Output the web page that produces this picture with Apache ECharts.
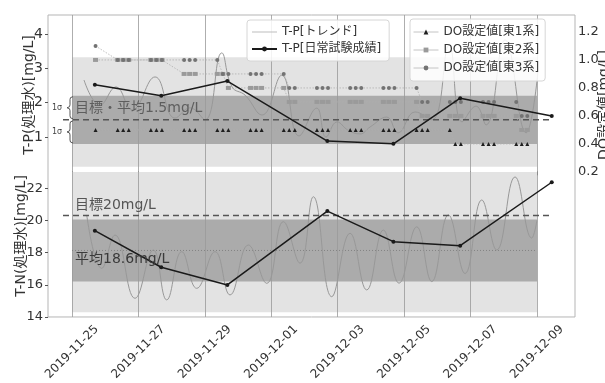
<!DOCTYPE html>
<html><head><meta charset="utf-8">
<script src="https://cdn.jsdelivr.net/npm/echarts@6/dist/echarts.min.js"></script>
<style>html,body{margin:0;padding:0;background:#fff}#c{width:605px;height:383px}</style>
</head><body><div id="c"></div>
<script>
const FONT = '"DejaVu Sans","Noto Sans CJK JP",sans-serif';

// ---- axis / ticks ----
const xTicks = ['2019-11-25','2019-11-27','2019-11-29','2019-12-01','2019-12-03','2019-12-05','2019-12-07','2019-12-09'];
const xRange = ['2019-11-24 06:39','2019-12-10 03:28'];
const tpRange = [-4.243, 4.554];
const tnRange = [14, 32.76];
const doRange = [-0.836, 1.321];
const tpTicks = [1,2,3,4];
const tnTicks = [14,16,18,20,22];
const doTicks = [0.2,0.4,0.6,0.8,1.0,1.2];

// ---- daily test results ----
const dailyTimes = ['2019-11-25 16:30','2019-11-27 16:30','2019-11-29 16:15','2019-12-02 16:30','2019-12-04 16:15','2019-12-06 16:30','2019-12-09 10:40'];
const tpDaily = [2.52, 2.20, 2.63, 0.88, 0.80, 2.13, 1.61];
const tnDaily = [19.36, 17.09, 15.99, 20.58, 18.68, 18.43, 22.37];

// ---- T-P trend ----
const tpTrendTimes = ['2019-11-25 08:40','2019-11-25 20:14','2019-11-26 07:48','2019-11-26 19:22','2019-11-27 12:00','2019-11-28 02:25','2019-11-28 13:16','2019-11-29 00:07','2019-11-29 12:11','2019-11-29 19:38','2019-11-30 05:02','2019-11-30 17:19','2019-12-01 07:32','2019-12-01 20:02','2019-12-02 08:50','2019-12-02 15:33','2019-12-02 23:31','2019-12-03 07:28','2019-12-03 16:08','2019-12-03 23:21','2019-12-04 11:25','2019-12-04 19:35','2019-12-05 07:52','2019-12-05 20:10','2019-12-06 08:27','2019-12-06 17:50','2019-12-07 03:58','2019-12-07 11:11','2019-12-08 00:55','2019-12-08 16:06','2019-12-09 00:43'];
const tpTrend = [2.66,1.93,2.46,1.79,2.75,1.55,1.85,1.50,3.45,2.46,2.22,1.64,2.80,1.03,1.84,1.00,1.44,1.20,1.09,1.29,1.58,1.12,1.73,1.50,3.68,1.44,1.90,1.35,3.83,1.12,2.90];

// ---- T-N trend ----
const tnTrendTimes = ['2019-11-25 10:38','2019-11-25 21:28','2019-11-26 07:05','2019-11-26 21:32','2019-11-27 10:45','2019-11-27 20:26','2019-11-28 07:17','2019-11-28 18:07','2019-11-29 07:21','2019-11-29 18:11','2019-11-30 07:25','2019-11-30 20:43','2019-12-01 08:43','2019-12-01 20:46','2019-12-02 06:23','2019-12-02 19:41','2019-12-03 08:54','2019-12-03 20:58','2019-12-04 08:58','2019-12-04 20:18','2019-12-05 09:06','2019-12-05 19:57','2019-12-06 07:57','2019-12-06 20:01','2019-12-07 08:05','2019-12-07 18:55','2019-12-08 08:08','2019-12-08 20:13','2019-12-09 00:00'];
const tnTrend = [20.34,17.02,19.09,15.16,18.16,15.06,18.06,15.78,18.06,15.37,18.47,16.09,19.92,17.34,21.47,15.26,19.20,15.68,19.40,16.10,19.60,16.20,20.34,16.70,21.27,18.16,22.70,18.90,20.00];

// ---- DO set values ----
const doFirst = '2019-11-25 17:00';
const doDays = ['2019-11-26','2019-11-27','2019-11-28','2019-11-29','2019-11-30','2019-12-01','2019-12-02','2019-12-03','2019-12-04','2019-12-05','2019-12-06','2019-12-07','2019-12-08'];
const doHours = ['09:00','13:00','17:00'];
const do1 = [0.5, 0.5,0.5,0.5, 0.5,0.5,0.5, 0.5,0.5,0.5, 0.5,0.5,0.5, 0.5,0.5,0.5, 0.5,0.5,0.5, 0.5,0.5,0.5, 0.5,0.5,0.5, 0.5,0.5,0.5, 0.5,0.5,0.5, 0.5,0.4,0.4, 0.4,0.4,0.4, 0.4,0.4,0.4];
const do2 = [1.0, 1.0,1.0,1.0, 1.0,1.0,1.0, 0.9,0.9,0.9, 0.9,0.9,0.8, 0.8,0.8,0.8, 0.8,0.7,0.7, 0.7,0.7,0.7, 0.7,0.7,0.7, 0.7,0.7,0.7, 0.7,0.6,0.6, 0.6,0.6,0.6, 0.6,0.6,0.6, 0.6,0.5,0.5];
const do3 = [1.1, 1.0,1.0,1.0, 1.0,1.0,1.0, 1.0,1.0,1.0, 1.0,0.9,0.9, 0.9,0.9,0.9, 0.9,0.8,0.8, 0.8,0.8,0.8, 0.8,0.8,0.8, 0.8,0.8,0.8, 0.8,0.7,0.7, 0.7,0.7,0.7, 0.7,0.7,0.7, 0.7,0.6,0.6];

// ---- reference bands / lines ----
const bandSpan = ['2019-11-25 00:00','2019-12-09 00:00'];
const targetSpan = ['2019-11-24 17:30','2019-12-09 09:20'];
const tpLight = [0.13, 3.32];
const tpDark = [0.795, 2.205];
const tpTarget = 1.5;
const tnLight = [14.3, 23.0];
const tnDark = [16.2, 20.05];
const tnMean = 18.13;
const tnTarget = 20.3;

function ts(s){
  const m = s.match(/(\d+)-(\d+)-(\d+)(?:\s+(\d+):(\d+))?/);
  return new Date(+m[1], +m[2]-1, +m[3], m[4]?+m[4]:0, m[5]?+m[5]:0).getTime();
}
function pad(n){return (n<10?'0':'')+n;}
function fmtDate(v){const d=new Date(v);return d.getFullYear()+'-'+pad(d.getMonth()+1)+'-'+pad(d.getDate());}
function zip(t,v){return t.map((x,i)=>[ts(x),v[i]]);}

const doTimes = [doFirst];
doDays.forEach(d=>doHours.forEach(h=>doTimes.push(d+' '+h)));

const tickTs = xTicks.map(ts);
const bx0 = ts(bandSpan[0]), bx1 = ts(bandSpan[1]);
const tx0 = ts(targetSpan[0]), tx1 = ts(targetSpan[1]);

const chart = echarts.init(document.getElementById('c'), null, {renderer:'canvas'});
const LBL = {fontSize:13, color:'#333', fontFamily:FONT};
const LEG_TXT = {fontSize:12, color:'#333', fontFamily:FONT, lineHeight:14};
const lineIcon = 'path://M0,0 L30,0 L30,1.2 L0,1.2 Z';
const legLine = {type:'solid', color:'#c4c4c4', width:1};

const option = {
  animation:false,
  backgroundColor:'#fff',
  textStyle:{fontFamily:FONT},
  grid:{left:48,right:30,top:15,bottom:66,show:true,borderColor:'#b5b5b5',borderWidth:1,backgroundColor:'transparent'},
  legend:[
    {data:[{name:'T-P[トレンド]', icon:lineIcon, itemStyle:{color:'#bdbdbd'}},'T-P[日常試験成績]'], orient:'vertical', left:247, top:20, padding:[5,8,5,4], itemGap:3, itemWidth:25, itemHeight:6,
     backgroundColor:'rgba(255,255,255,0.85)', borderColor:'#d6d6d6', borderWidth:1, borderRadius:3, textStyle:LEG_TXT},
    {data:[{name:'DO設定値[東1系]', lineStyle:legLine},{name:'DO設定値[東2系]', lineStyle:legLine},{name:'DO設定値[東3系]', lineStyle:legLine}],
     orient:'vertical', left:410, top:19, padding:[6,6,6,3], itemGap:4, itemWidth:25, itemHeight:6,
     backgroundColor:'rgba(255,255,255,0.85)', borderColor:'#d6d6d6', borderWidth:1, borderRadius:3, textStyle:LEG_TXT}
  ],
  xAxis:{type:'value', min:ts(xRange[0]), max:ts(xRange[1]), scale:true,
    axisLine:{show:false}, splitLine:{show:false},
    axisTick:{show:true, customValues:tickTs, length:4, lineStyle:{color:'#555'}},
    axisLabel:{customValues:tickTs, rotate:45, align:'center', verticalAlign:'middle', margin:35, fontSize:12, color:'#333', fontFamily:FONT, formatter:fmtDate}},
  yAxis:[
    {type:'value', position:'left', min:tpRange[0], max:tpRange[1], axisLine:{show:false}, splitLine:{show:false},
     axisTick:{show:true, customValues:tpTicks, length:3, lineStyle:{color:'#555'}},
     axisLabel:{customValues:tpTicks, margin:5, fontSize:14, color:'#333', fontFamily:FONT}},
    {type:'value', position:'left', min:tnRange[0], max:tnRange[1], axisLine:{show:false}, splitLine:{show:false},
     axisTick:{show:true, customValues:tnTicks, length:3, lineStyle:{color:'#555'}},
     axisLabel:Object.assign({customValues:tnTicks, margin:5}, LBL)},
    {type:'value', position:'right', min:doRange[0], max:doRange[1], axisLine:{show:false}, splitLine:{show:false},
     axisTick:{show:false},
     axisLabel:Object.assign({customValues:doTicks, margin:3, formatter:v=>v.toFixed(1)}, LBL)}
  ],
  series:[
    {type:'line', name:'_tpLight', yAxisIndex:0, data:[], silent:true,
     markArea:{silent:true, z:1, itemStyle:{color:'#e3e3e3'}, data:[[{xAxis:bx0,yAxis:tpLight[0]},{xAxis:bx1,yAxis:tpLight[1]}]]}},
    {type:'line', name:'_tnLight', yAxisIndex:1, data:[], silent:true,
     markArea:{silent:true, z:1, itemStyle:{color:'#e3e3e3'}, data:[[{xAxis:bx0,yAxis:tnLight[0]},{xAxis:bx1,yAxis:tnLight[1]}]]}},
    {type:'line', name:'_tpDark', yAxisIndex:0, data:[], silent:true,
     markArea:{silent:true, z:1.5, itemStyle:{color:'#ababab'}, data:[[{xAxis:bx0,yAxis:tpDark[0]},{xAxis:bx1,yAxis:tpDark[1]}]]}},
    {type:'line', name:'_tnDark', yAxisIndex:1, data:[], silent:true,
     markArea:{silent:true, z:1.5, itemStyle:{color:'#ababab'}, data:[[{xAxis:bx0,yAxis:tnDark[0]},{xAxis:bx1,yAxis:tnDark[1]}]]},
     markLine:{silent:true, z:2, symbol:'none', label:{show:false}, lineStyle:{color:'#999', width:0.8, type:'solid'},
       data:tickTs.map(t=>({xAxis:t}))}},
    {type:'line', name:'_tnMean', yAxisIndex:1, z:2, data:[[bx0,tnMean],[bx1,tnMean]], symbol:'none', silent:true,
     lineStyle:{color:'#7a7a7a', width:0.8, type:[1,2]}},
    {type:'line', name:'T-P[トレンド]', yAxisIndex:0, z:3, data:zip(tpTrendTimes,tpTrend), smooth:0.45, symbol:'none',
     color:'#bdbdbd', lineStyle:{color:'#989898', width:1}},
    {type:'line', name:'T-N[トレンド]', yAxisIndex:1, z:3, data:zip(tnTrendTimes,tnTrend), smooth:0.45, symbol:'none',
     lineStyle:{color:'#989898', width:1}},
    {type:'line', name:'_tpTarget', yAxisIndex:0, z:3, data:[[tx0,tpTarget],[tx1,tpTarget]], symbol:'none', silent:true,
     lineStyle:{color:'#555', width:1.5, type:[6,4]}},
    {type:'line', name:'_tnTarget', yAxisIndex:1, z:3, data:[[tx0,tnTarget],[tx1,tnTarget]], symbol:'none', silent:true,
     lineStyle:{color:'#555', width:1.5, type:[6,4]}},
    {type:'line', name:'DO設定値[東1系]', yAxisIndex:2, z:4, data:zip(doTimes,do1), symbol:'triangle', symbolSize:4, showSymbol:true,
     itemStyle:{color:'#1e1e1e'}, lineStyle:{color:'#b0b0b0', width:0.8, type:[1.5,1.5]}},
    {type:'line', name:'DO設定値[東2系]', yAxisIndex:2, z:4, data:zip(doTimes,do2), symbol:'rect', symbolSize:[5,4], showSymbol:true,
     itemStyle:{color:'#9a9a9a'}, lineStyle:{color:'#b0b0b0', width:0.8, type:[1.5,1.5]}},
    {type:'line', name:'DO設定値[東3系]', yAxisIndex:2, z:4, data:zip(doTimes,do3), symbol:'circle', symbolSize:4, showSymbol:true,
     itemStyle:{color:'#737373'}, lineStyle:{color:'#b0b0b0', width:0.8, type:[1.5,1.5]}},
    {type:'line', name:'T-P[日常試験成績]', yAxisIndex:0, z:5, data:zip(dailyTimes,tpDaily), symbol:'circle', symbolSize:4, showSymbol:true,
     itemStyle:{color:'#1a1a1a'}, lineStyle:{color:'#1a1a1a', width:1.5}},
    {type:'line', name:'T-N[日常試験成績]', yAxisIndex:1, z:5, data:zip(dailyTimes,tnDaily), symbol:'circle', symbolSize:4, showSymbol:true,
     itemStyle:{color:'#1a1a1a'}, lineStyle:{color:'#1a1a1a', width:1.5}}
  ]
};
chart.setOption(option);

// annotations positioned through the chart's own coordinate conversion
function px(yi, t, v){ return chart.convertToPixel({xAxisIndex:0, yAxisIndex:yi}, [t, v]); }
const pTop = px(0, bx0, tpDark[1]), pMid = px(0, bx0, tpTarget), pBot = px(0, bx0, tpDark[0]);
function brace(xb, y1, y2){
  const xv = xb-2, tip = xb-5, arm = xb+1, ym=(y1+y2)/2;
  return [[arm,y1],[xv+0.5,y1+1],[xv,y1+3],[xv,ym-3],[xv-0.5,ym-1],[tip,ym],[xv-0.5,ym+1],[xv,ym+3],[xv,y2-3],[xv+0.5,y2-1],[arm,y2]];
}
const xb = pTop[0];
const tText1 = px(0, bx0, 1.84), tText2 = px(1, bx0, 20.96), tText3 = px(1, bx0, 17.6);
chart.setOption({graphic:[
  {type:'text', x:29, y:95, rotation:Math.PI/2, style:{text:'T-P(処理水)[mg/L]', font:'14px '+FONT, fill:'#333', align:'center', verticalAlign:'middle'}},
  {type:'text', x:21, y:236, rotation:Math.PI/2, style:{text:'T-N(処理水)[mg/L]', font:'14px '+FONT, fill:'#333', align:'center', verticalAlign:'middle'}},
  {type:'text', x:604, y:105, rotation:Math.PI/2, style:{text:'DO設定値[mg/L]', font:'14px '+FONT, fill:'#333', align:'center', verticalAlign:'middle'}},
  {type:'polyline', z:10, shape:{points:brace(xb, pTop[1]+1, pMid[1]-1)}, style:{fill:null, stroke:'#555', lineWidth:1}},
  {type:'polyline', z:10, shape:{points:brace(xb, pMid[1]+1, pBot[1]-1)}, style:{fill:null, stroke:'#555', lineWidth:1}},
  {type:'text', z:10, x:xb-15, y:(pTop[1]+pMid[1])/2, style:{text:'1σ', font:'8px '+FONT, fill:'#444', align:'center', verticalAlign:'middle'}},
  {type:'text', z:10, x:xb-15, y:(pMid[1]+pBot[1])/2, style:{text:'1σ', font:'8px '+FONT, fill:'#444', align:'center', verticalAlign:'middle'}},
  {type:'text', z:10, x:tText1[0]+3, y:tText1[1], style:{text:'目標・平均1.5mg/L', font:'14px '+FONT, fill:'#5e5e5e', align:'left', verticalAlign:'middle'}},
  {type:'text', z:10, x:tText2[0]+3, y:tText2[1], style:{text:'目標20mg/L', font:'14px '+FONT, fill:'#555', align:'left', verticalAlign:'middle'}},
  {type:'text', z:10, x:tText3[0]+3, y:tText3[1], style:{text:'平均18.6mg/L', font:'14px '+FONT, fill:'#3a3a3a', align:'left', verticalAlign:'middle'}}
]});
</script></body></html>
